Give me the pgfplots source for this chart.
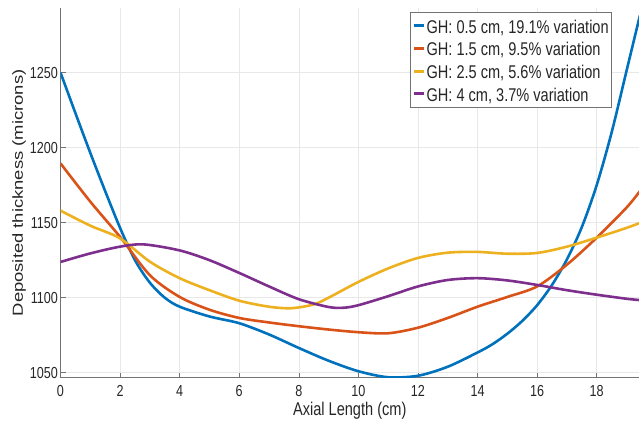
\documentclass[border=0pt]{standalone}
\usepackage{fontspec}
\setmainfont{Liberation Sans}[FakeStretch=0.79]
\newfontfamily\ylfont{Liberation Sans}
\usepackage{graphicx}
\usepackage{pgfplots}
\usepackage{pgfplotstable}
\pgfplotsset{compat=1.18}
\definecolor{mblue}{rgb}{0,0.447,0.741}
\definecolor{morange}{rgb}{0.85,0.325,0.098}
\definecolor{myellow}{rgb}{0.929,0.694,0.125}
\definecolor{mpurple}{rgb}{0.494,0.184,0.556}
\definecolor{txt}{HTML}{262626}
\pgfplotstableread{
x y
0 1250
0.5 1223
1 1196.5
1.5 1171
2 1146.5
2.5 1125
3 1110
3.5 1100
4 1094
5 1087.5
6 1083
7 1075.5
8 1066.5
9 1058
10 1051
11 1047
12 1048
13 1054
14 1063.5
14.5 1069
15 1076
15.5 1084.5
16 1095
16.5 1108.5
17 1125.5
17.5 1147
18 1175
18.5 1210
19 1251
19.45 1288
}\blue
\pgfplotstableread{
x y
0 1189.5
1 1164
2 1140.5
3 1115
4 1100.5
5 1092
6 1086.5
7 1083.5
8 1081
9 1078.8
10 1077
11 1076.3
12 1080
13 1086.5
14 1094
15 1100.5
16 1107.5
17 1122
18 1140
19 1160
19.45 1171
}\orange
\pgfplotstableread{
x y
0 1158
1 1148
2 1139.5
3 1124
4 1113
5 1105
6 1098
7 1094
7.75 1093
8.5 1095.5
9 1100
10 1110.5
11 1119.5
12 1126.5
13 1130
14 1130.5
15 1129.3
16 1129.8
17 1134
18 1140
19 1146.5
19.45 1149.8
}\yellow
\pgfplotstableread{
x y
0 1123.8
1 1129.5
2 1134
2.8 1135.5
4 1131.5
5 1125
6 1116.5
7 1107.5
8 1099
9 1093.8
9.5 1093.3
10 1095
11 1101
12 1107.5
13 1111.8
14 1113
15 1111.5
16 1108.5
17 1105
18 1102
19 1099.3
19.45 1098.4
}\purple
\begin{document}
\begin{tikzpicture}
\begin{axis}[
  scale only axis,
  width=578.5bp, height=369.7bp,
  at={(0,0)}, anchor=south west,
  xmin=0, xmax=19.42, ymin=1046.7, ymax=1293,
  axis lines=left,
  axis line style={-, black!55, line width=0.6bp},
  xtick={0,2,...,18}, ytick={1050,1100,...,1250},
  tick align=inside, tick style={black!55, line width=0.6bp},
  major tick length=5bp,
  grid=major, grid style={black!9, line width=0.6bp},
  /pgf/number format/assume math mode=true,
  /pgf/number format/1000 sep={},
  ticklabel style={font=\fontsize{16}{18}\selectfont, text=txt},
  xticklabel style={yshift=-4bp},
  yticklabel style={xshift=1bp},
  xlabel={Axial Length (cm)},
  xlabel style={at={(axis description cs:0.5,0)}, anchor=center, yshift=-33.5bp, font=\fontsize{18.5}{20}\selectfont, text=txt},
  ylabel={\scalebox{1}[0.79]{\ylfont Deposited thickness (microns)}},
  ylabel style={at={(axis description cs:0,0.5)}, anchor=center, yshift=41.5bp, font=\fontsize{18.5}{20}\selectfont, text=txt},
  legend style={at={(1,1)}, anchor=north east, xshift=-27bp, yshift=-4bp,
    draw=black!55, line width=0.6bp, inner xsep=2bp, inner ysep=2.2bp,
    font=\fontsize{18.5}{20}\selectfont, text=txt,
    nodes={inner sep=1bp, text height=17.7bp, text depth=3bp}},
  legend cell align=left,
  legend image code/.code={\draw[#1, line width=3bp] (0bp,0bp) -- (10bp,0bp);},
  every axis plot/.append style={line width=2.6bp, smooth},
]
\addplot[mblue] table {\blue};
\addlegendentry{GH: 0.5 cm, 19.1\% variation}
\addplot[morange] table {\orange};
\addlegendentry{GH: 1.5 cm, 9.5\% variation}
\addplot[myellow] table {\yellow};
\addlegendentry{GH: 2.5 cm, 5.6\% variation}
\addplot[mpurple] table {\purple};
\addlegendentry{GH: 4 cm, 3.7\% variation}
\end{axis}
\pgfresetboundingbox
\path (-60.5bp,-50.3bp) rectangle (578.5bp,377.7bp);
\end{tikzpicture}
\end{document}
